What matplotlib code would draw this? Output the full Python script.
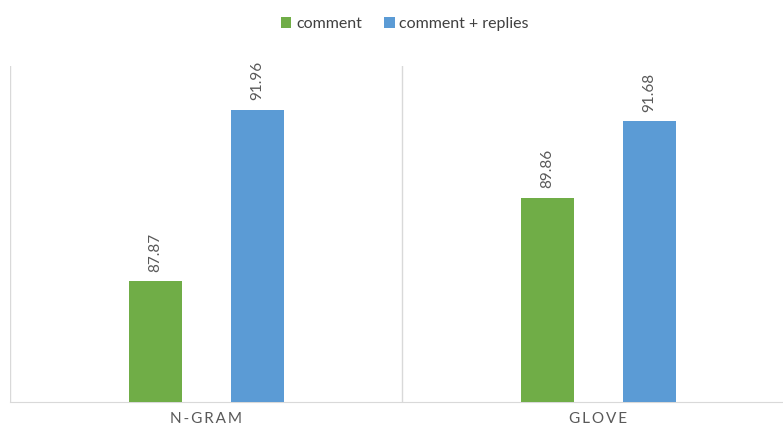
import matplotlib
matplotlib.use("Agg")
import matplotlib.pyplot as plt
import numpy as np

categories = ["N-GRAM", "GLOVE"]
series_names = ["comment", "comment + replies"]
comment = [87.87, 89.86]
comment_replies = [91.96, 91.68]
colors = ["#70AD47", "#5B9BD5"]

plt.rcParams["font.family"] = ["Lato", "DejaVu Sans"]

fig = plt.figure(figsize=(7.83, 4.26), dpi=100)
W, H = 783, 426
left, right, bottom, top = 10, 783, 402, 66
ax = fig.add_axes([left / W, 1 - bottom / H, (right - left) / W, (bottom - top) / H])

x = np.arange(len(categories))
width = 53 / 392
offset = 51 / 392
series = [comment, comment_replies]
for i, (vals, name, c) in enumerate(zip(series, series_names, colors)):
    pos = x + (i - 0.5) * 2 * offset
    bars = ax.bar(pos, vals, width, color=c, label=name, zorder=3)
    for b, v in zip(bars, vals):
        ax.annotate(f"{v:.2f}", (b.get_x() + b.get_width() / 2, v),
                    xytext=(0, 7), textcoords="offset points",
                    rotation=90, ha="center", va="bottom",
                    fontsize=11, color="#595959")

ax.set_ylim(85, 93)
ax.set_xlim(-0.5, 1.5 - 11 / 392)

# category separators
for xv in [-0.5, 0.5]:
    ax.axvline(xv, color="#D9D9D9", lw=1, zorder=1)

for s in ["top", "right", "left"]:
    ax.spines[s].set_visible(False)
ax.spines["bottom"].set_color("#D9D9D9")
ax.set_yticks([])
ax.set_xticks(x)
ax.set_xticklabels(["\u2009".join(c) for c in categories],
                   fontsize=11, color="#595959")
ax.tick_params(axis="x", length=0, pad=7)

fig.legend(loc="upper center", bbox_to_anchor=(0.517, 0.99), ncol=2,
           frameon=False, fontsize=11.5, handlelength=0.65, handleheight=0.65,
           handletextpad=0.3, columnspacing=1.4, labelcolor="#404040",
           borderaxespad=0.4)

fig.savefig("out.png", dpi=100)
